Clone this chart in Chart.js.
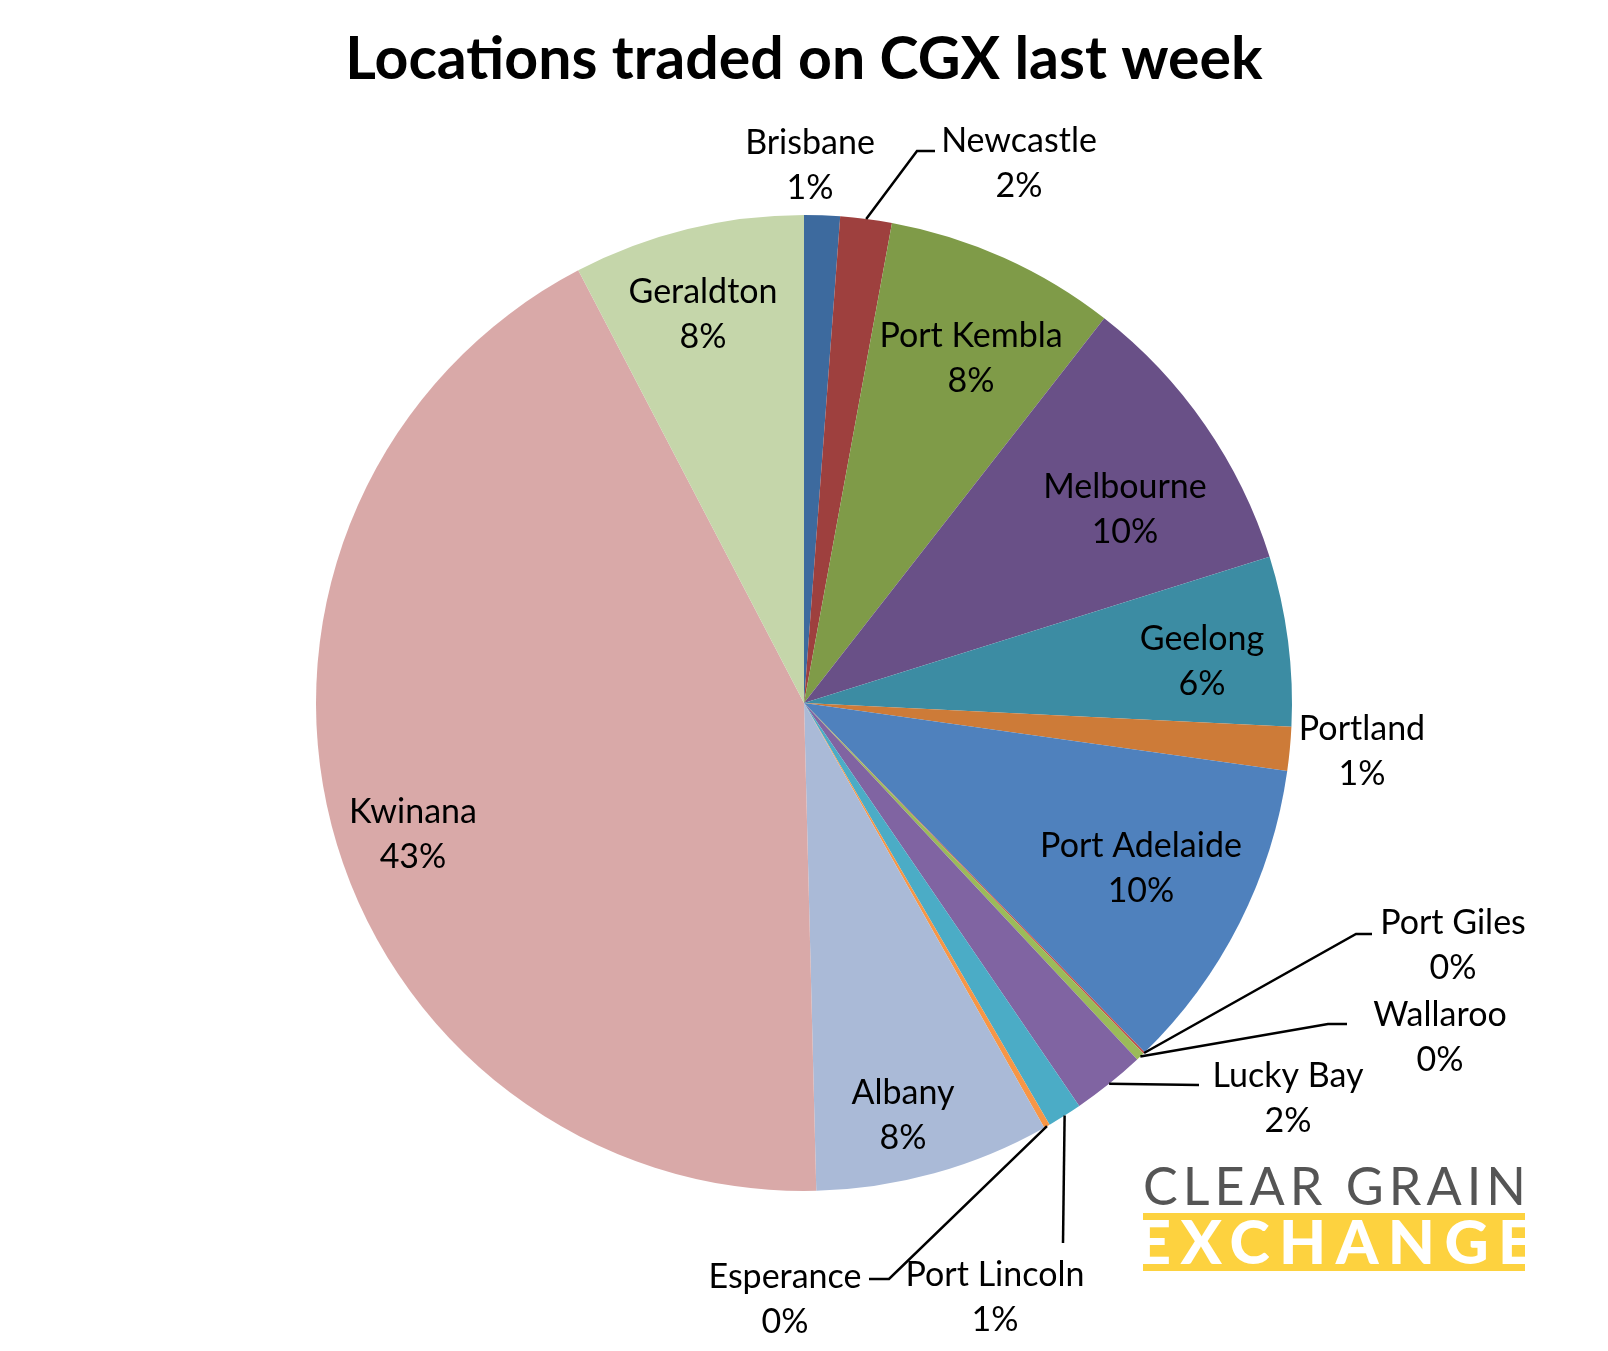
<!DOCTYPE html>
<html>
<head>
<meta charset="utf-8">
<script src="https://cdn.jsdelivr.net/npm/chart.js@4.4.1/dist/chart.umd.min.js"></script>
<style>
  html, body { margin: 0; padding: 0; background: #fff; }
</style>
</head>
<body>
<canvas id="chart" width="1608" height="1351"></canvas>
<script>
// data (share of trades, %)
const locations = ["Brisbane", "Newcastle", "Port Kembla", "Melbourne", "Geelong", "Portland", "Port Adelaide",
  "Port Giles", "Wallaroo", "Lucky Bay", "Port Lincoln", "Esperance", "Albany", "Kwinana", "Geraldton"];
const shares = [1.18, 1.70, 7.65, 9.59, 5.61, 1.45, 10.45, 0.06, 0.28, 2.42, 1.14, 0.20, 7.78, 42.67, 7.64];

const colors = ["#3D6A9E", "#9E403E", "#7F9B48", "#695087", "#3C8CA3", "#CD7B38", "#4F81BD",
  "#C0504D", "#9BBB59", "#8064A2", "#4BACC6", "#F79646", "#AABAD7", "#D9A9A8", "#C5D6AA"];

// label centre (first line) as offset from pie centre, for a radius of 488
const labelPos = [
  [6, -560], [215, -562], [167, -367], [321, -216], [398, -64], [558, 26], [337, 143],
  [649, 220], [636, 312], [484, 373], [191, 572], [-19, 574], [99, 390], [-391, 109], [-101, -411]
];
// leader line points after the slice edge (same units), null = no line
const leaders = [
  null, [[113, -552], [131, -552]], null, null, null, null, null,
  [[552, 231], [568, 231]], [[524, 321], [543, 321]], [[395, 382]], [[259, 540]], [[85, 576], [65, 576]],
  null, null, null
];

const FONT = "Lato";

const sliceLabels = {
  id: "sliceLabels",
  afterDatasetsDraw(chart) {
    const ctx = chart.ctx;
    const meta = chart.getDatasetMeta(0);
    const total = shares.reduce((a, b) => a + b, 0);
    ctx.save();
    ctx.strokeStyle = "#000";
    ctx.lineWidth = 2.5;
    ctx.fillStyle = "#000";
    ctx.font = "34px " + FONT;
    ctx.textAlign = "center";
    ctx.textBaseline = "middle";
    meta.data.forEach((arc, i) => {
      const p = arc.getProps(["x", "y", "outerRadius", "startAngle", "endAngle"], true);
      const k = p.outerRadius / 488;
      if (leaders[i]) {
        const mid = (p.startAngle + p.endAngle) / 2;
        ctx.beginPath();
        ctx.moveTo(p.x + Math.cos(mid) * p.outerRadius, p.y + Math.sin(mid) * p.outerRadius);
        leaders[i].forEach(([dx, dy]) => ctx.lineTo(p.x + dx * k, p.y + dy * k));
        ctx.stroke();
      }
      const lx = p.x + labelPos[i][0] * k;
      const ly = p.y + labelPos[i][1] * k;
      ctx.fillText(locations[i], lx, ly);
      ctx.fillText(Math.round(shares[i] / total * 100) + "%", lx, ly + 45 * k);
    });
    ctx.restore();
  },
};

// Clear Grain Exchange logo, bottom right
const logo = {
  id: "logo",
  afterDraw(chart) {
    const ctx = chart.ctx;
    ctx.save();
    const fit = (text, x0, x1, y) => {
      ctx.letterSpacing = "0px";
      const w = ctx.measureText(text).width;
      const sp = (x1 - x0 - w) / (text.length - 1);
      ctx.letterSpacing = sp + "px";
      ctx.fillText(text, x0, y);
    };
    ctx.textAlign = "left";
    ctx.textBaseline = "alphabetic";
    ctx.fillStyle = "#555555";
    ctx.font = "52px " + FONT;
    fit("CLEAR GRAIN", 1143, 1526, 1205);
    ctx.fillStyle = "#FDD23F";
    ctx.fillRect(1143, 1213, 382, 58);
    ctx.fillStyle = "#ffffff";
    ctx.font = "900 61px " + FONT;
    fit("EXCHANGE", 1136, 1533, 1264);
    ctx.restore();
  },
};

new Chart(document.querySelector("#chart").getContext("2d"), {
  type: "pie",
  data: {
    labels: locations,
    datasets: [
      {
        data: shares,
        backgroundColor: colors,
        borderWidth: 0,
        hoverOffset: 0,
      },
    ],
  },
  options: {
    responsive: false,
    animation: false,
    layout: {
      padding: { top: 0, bottom: 160, left: 0, right: 0 },
    },
    plugins: {
      legend: { display: false },
      tooltip: { enabled: false },
      title: {
        display: true,
        text: "Locations traded on CGX last week",
        color: "#000",
        font: { family: FONT, size: 59, weight: "bold" },
        padding: { top: 25, bottom: 119.2 },
      },
    },
  },
  plugins: [sliceLabels, logo],
});
</script>
</body>
</html>
